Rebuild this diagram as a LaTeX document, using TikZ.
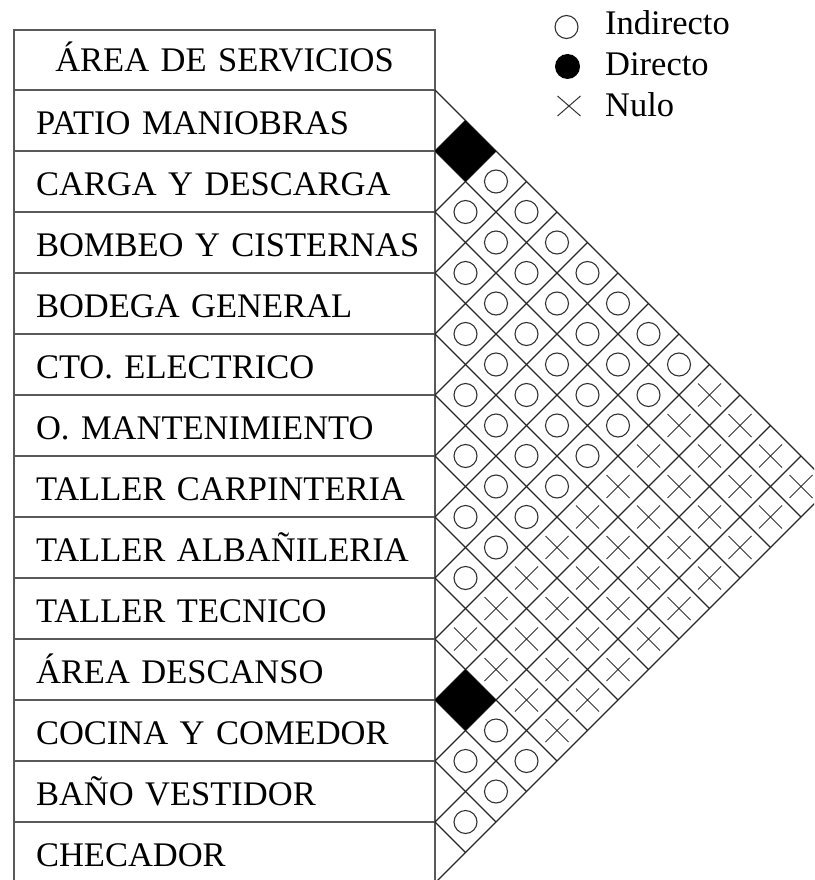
\documentclass[tikz,border=0pt]{standalone}
\usepackage{fontspec}
\setmainfont{Liberation Serif}
\usetikzlibrary{shapes.geometric, shapes.misc, positioning, calc}

\begin{document}
\begin{tikzpicture}[
                x=1pt, y=-1pt,
                every node/.style={font=\fontsize{34.5}{40}\selectfont},
                area/.style={rectangle, draw=black!65, line width=1.2pt, outer sep=0pt, minimum width=421pt, minimum height=61pt, text width=377pt, align=left, inner xsep=22pt, inner ysep=0pt, text height=28pt, text depth=0pt},
                header/.style={area, minimum height=60pt, align=center, text height=23pt},
                grid/.style={draw=black!85, line width=1.1pt},
                indirecto/.style={circle, draw=black!80, line width=1.1pt, minimum size=23pt, inner sep=0pt},
                directo/.style={diamond, fill=black, minimum size=61pt, inner sep=0pt},
                nulo/.style={cross out, draw=black!80, line width=1pt, minimum size=22pt, inner sep=0pt},
                legend/.style={anchor=base west, inner sep=0pt}
            ]%
            \useasboundingbox (0,0) rectangle (814,880);
            \clip (0,0) rectangle (814,880);
            %
            % Tabla de áreas
            \node[header] (area-0) at (224.5,60) {ÁREA DE SERVICIOS};
            \foreach \txt [count=\i, remember=\i as \prev (initially 0)] in {PATIO MANIOBRAS, CARGA Y DESCARGA, BOMBEO Y CISTERNAS, BODEGA GENERAL, CTO. ELECTRICO, O. MANTENIMIENTO, TALLER CARPINTERIA, TALLER ALBAÑILERIA, TALLER TECNICO, ÁREA DESCANSO, COCINA Y COMEDOR, BAÑO VESTIDOR, CHECADOR}
                \node[area, below=0pt of area-\prev] (area-\i) {\mbox{\txt}};
            %
            % Retícula diagonal
            \foreach \k in {0,...,13}{
                \draw[grid] (area-\k.south east) -- ($(area-\k.south east)+({30.5*(13-\k)},{30.5*(13-\k)})$);
                \draw[grid] (area-\k.south east) -- ($(area-\k.south east)+({30.5*\k},{-30.5*\k})$);
            }
            %
            % Relaciones (0 nulo, 1 indirecto, 2 directo)
            \foreach \i in {1,...,12}{
                \pgfmathtruncatemacro\jfirst{\i+1}
                \foreach \j in {\jfirst,...,13}{
                    \pgfmathsetmacro\cx{435+30.5*(\j-\i)}
                    \pgfmathsetmacro\cy{90+30.5*(\i+\j-1)}
                    \pgfmathtruncatemacro\kind{((\i==1 && \j==2) || (\i==10 && \j==11)) ? 2 : ((\i<=9 && \j>=10) ? 0 : 1)}
                    \ifcase\kind
                        \node[nulo] (c-\i-\j) at (\cx,\cy) {};
                    \or
                        \node[indirecto] (c-\i-\j) at (\cx,\cy) {};
                    \or
                        \node[directo] (c-\i-\j) at (\cx,\cy) {};
                    \fi
                }
            }
            %
            % === LEYENDA ===
            \node[indirecto] (leg-ind) at (566.5,27) {};
            \node[circle, fill=black, minimum size=25pt, inner sep=0pt] (leg-dir) at (567.5,66.5) {};
            \node[nulo, minimum width=22pt, minimum height=19pt] (leg-nul) at (569,106) {};
            \node[legend] (txt-ind) at (605,35) {Indirecto};
            \node[legend] (txt-dir) at (605,76) {Directo};
            \node[legend] (txt-nul) at (605,117) {Nulo};
        \end{tikzpicture}
\end{document}
